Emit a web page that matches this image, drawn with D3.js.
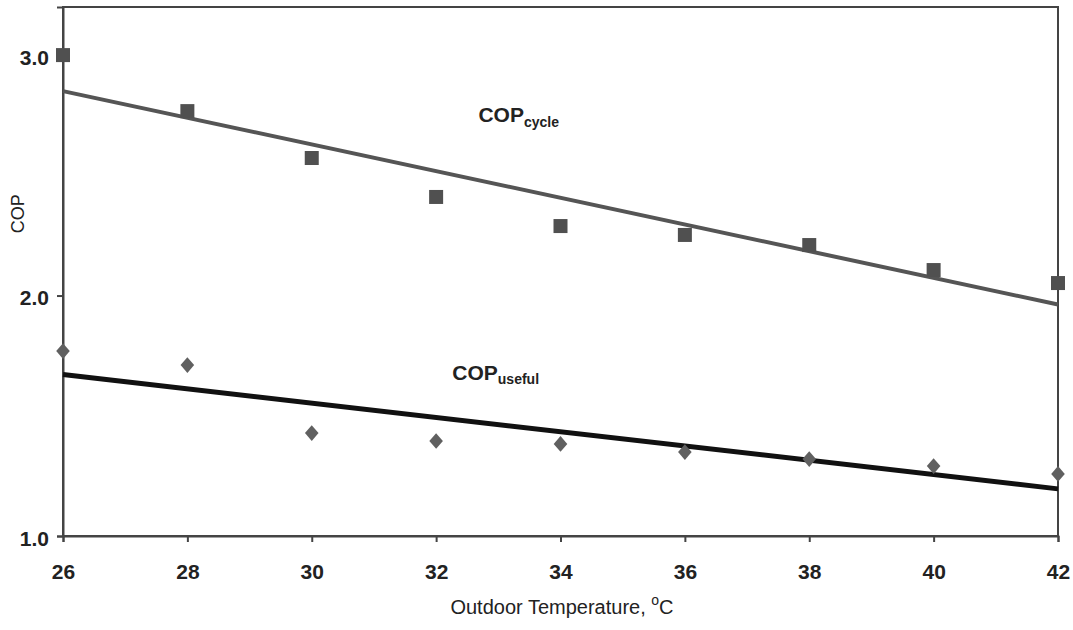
<!DOCTYPE html>
<html>
<head>
<meta charset="utf-8">
<script src="https://cdn.jsdelivr.net/npm/d3@7"></script>
<style>
  body { margin: 0; background: #fff; }
  svg { font-family: Arial, "Liberation Sans", sans-serif; }
</style>
</head>
<body>
<div id="chart"></div>
<script>
const temps = [26, 28, 30, 32, 34, 36, 38, 40, 42];
const copCycle = [3.0, 2.767, 2.572, 2.41, 2.289, 2.252, 2.21, 2.106, 2.052];
const copUseful = [1.769, 1.711, 1.428, 1.395, 1.383, 1.349, 1.32, 1.291, 1.258];
const xTicks = [26, 28, 30, 32, 34, 36, 38, 40, 42];
const yTicks = [1.0, 2.0, 3.0];

const svg = d3.select("#chart")
    .append("svg")
    .attr("width", 1073)
    .attr("height", 630);

const margin = {top: 7, right: 15, bottom: 94, left: 63};
const width = 1073 - margin.left - margin.right;
const height = 630 - margin.top - margin.bottom;

const x = d3.scaleLinear().domain([26, 42]).range([0, width]);
const y = d3.scaleLinear().domain([1, 3.2]).range([height, 0]);

const g = svg.append("g")
    .attr("transform", `translate(${margin.left},${margin.top})`);

// frame
g.append("rect")
    .attr("width", width)
    .attr("height", height)
    .attr("fill", "none")
    .attr("stroke", "#444")
    .attr("stroke-width", 2);

// axes
const xAxis = g.append("g")
    .attr("transform", `translate(0,${height})`)
    .call(d3.axisBottom(x).tickValues(xTicks).tickSize(6).tickPadding(22).tickFormat(d3.format("d")));
const yAxis = g.append("g")
    .call(d3.axisLeft(y).tickValues(yTicks).tickSize(6).tickPadding(8).tickFormat(d3.format(".1f")));

[xAxis, yAxis].forEach(a => {
    a.select(".domain").attr("stroke", "#444").attr("stroke-width", 2);
    a.selectAll(".tick line").attr("stroke", "#444").attr("stroke-width", 2);
    a.selectAll(".tick text")
        .attr("fill", "#222")
        .attr("font-size", 21)
        .attr("font-weight", "bold");
});
yAxis.selectAll(".tick text").attr("dy", "0.45em");

// least-squares trend lines
function fit(xs, ys) {
    const mx = d3.mean(xs), my = d3.mean(ys);
    const slope = d3.sum(xs, (v, i) => (v - mx) * (ys[i] - my)) / d3.sum(xs, v => (v - mx) ** 2);
    return v => my + slope * (v - mx);
}
const cycleFit = fit(temps, copCycle);
const usefulFit = fit(temps, copUseful);
const ends = [26, 42];

g.append("line")
    .attr("x1", x(ends[0])).attr("y1", y(cycleFit(ends[0])))
    .attr("x2", x(ends[1])).attr("y2", y(cycleFit(ends[1])))
    .attr("stroke", "#555")
    .attr("stroke-width", 4);

g.append("line")
    .attr("x1", x(ends[0])).attr("y1", y(usefulFit(ends[0])))
    .attr("x2", x(ends[1])).attr("y2", y(usefulFit(ends[1])))
    .attr("stroke", "#111")
    .attr("stroke-width", 5);

// markers
g.selectAll(".sq")
    .data(temps)
    .enter().append("rect")
    .attr("class", "sq")
    .attr("x", d => x(d) - 7)
    .attr("y", (d, i) => y(copCycle[i]) - 7)
    .attr("width", 14)
    .attr("height", 14)
    .attr("fill", "#505050");

g.selectAll(".dm")
    .data(temps)
    .enter().append("path")
    .attr("class", "dm")
    .attr("d", d3.symbol().type(d3.symbolDiamond2).size(130))
    .attr("transform", (d, i) => `translate(${x(d)},${y(copUseful[i])}) scale(0.95,1.1)`)
    .attr("fill", "#606060");

// annotations
const t1 = g.append("text")
    .attr("x", x(32.68))
    .attr("y", y(2.723))
    .attr("font-size", 21)
    .attr("font-weight", "bold")
    .attr("fill", "#222");
t1.append("tspan").text("COP");
t1.append("tspan").attr("font-size", 14).attr("dy", 5).text("cycle");

const t2 = g.append("text")
    .attr("x", x(32.26))
    .attr("y", y(1.65))
    .attr("font-size", 21)
    .attr("font-weight", "bold")
    .attr("fill", "#222");
t2.append("tspan").text("COP");
t2.append("tspan").attr("font-size", 14).attr("dy", 4).text("useful");

// axis titles
svg.append("text")
    .attr("transform", `translate(24,${margin.top + y(2.34)}) rotate(-90)`)
    .attr("text-anchor", "middle")
    .attr("font-size", 18)
    .attr("fill", "#222")
    .text("COP");

const xt = svg.append("text")
    .attr("x", 562)
    .attr("y", 614)
    .attr("text-anchor", "middle")
    .attr("font-size", 20)
    .attr("fill", "#222");
xt.append("tspan").text("Outdoor Temperature, ");
xt.append("tspan").attr("font-size", 14).attr("dy", -9).text("o");
xt.append("tspan").attr("dy", 9).text("C");
</script>
</body>
</html>
